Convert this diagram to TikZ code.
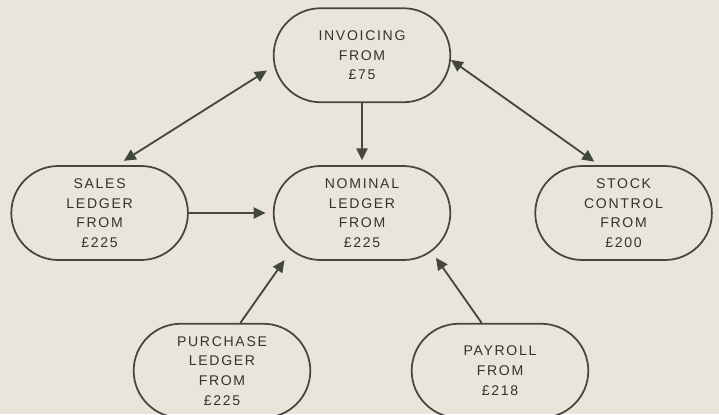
\documentclass[tikz,border=0pt]{standalone}
\usepackage{fontspec}
\setmainfont{Liberation Sans}[LetterSpace=12]
\usepackage{tikz}
\usetikzlibrary{arrows.meta, positioning, shapes.misc}
\usepackage{xcolor}
\definecolor{paper}{HTML}{E9E5DA}
\definecolor{ink}{HTML}{44473E}

\begin{document}
\begin{tikzpicture}[
    node distance=1.55cm and 2.1cm,
    stage/.style={
        rounded rectangle, draw=ink, line width=1.25pt,
        minimum width=4.65cm, minimum height=2.35cm,
        align=center, font=\fontsize{10}{14}\selectfont,
        text=black!80
    },
    arr/.style={-{Triangle[length=0.3cm, width=0.28cm]}, line width=1.3pt, ink},
    dblarr/.style={{Triangle[length=0.3cm, width=0.28cm]}-{Triangle[length=0.3cm, width=0.28cm]}, line width=1.3pt, ink},
]

% ── Paper ────────────────────────────
\useasboundingbox (-9.05,-5.025) rectangle (8.925,5.325);
\fill[paper] (-9.05,-5.025) rectangle (8.925,5.325);

% ── Middle row ───────────────────────
\node[stage] (nominal) at (0,0) {NOMINAL\\LEDGER\\FROM\\£225};
\node[stage, left=of nominal] (sales) {SALES\\LEDGER\\FROM\\£225};
\node[stage, right=2.08cm of nominal] (stock) {STOCK\\CONTROL\\FROM\\£200};

% ── Top ──────────────────────────────
\node[stage, above=of nominal] (invoicing) {INVOICING\\FROM\\£75};

% ── Bottom row ───────────────────────
\node[stage, below=of nominal, xshift=-3.5cm] (purchase) {PURCHASE\\LEDGER\\FROM\\£225};
\node[stage, below=of nominal, xshift=3.45cm] (payroll) {PAYROLL\\FROM\\£218};

% ── Two-way links ────────────────────
\draw[dblarr, shorten <=0.21cm, shorten >=0.2cm] (invoicing.187) -- (sales.70);
\draw[dblarr, shorten >=0.15cm] (invoicing.357) -- (stock.117);

% ── Into nominal ledger ──────────────
\draw[arr, shorten >=0.12cm] (invoicing.south) -- (nominal.north);
\draw[arr, shorten >=0.18cm] (sales.east) -- (nominal.west);
\draw[arr, shorten >=0.29cm] (purchase.69) -- (nominal.208);
\draw[arr, shorten >=0.19cm] (payroll.111) -- (nominal.331);

\end{tikzpicture}
\end{document}
